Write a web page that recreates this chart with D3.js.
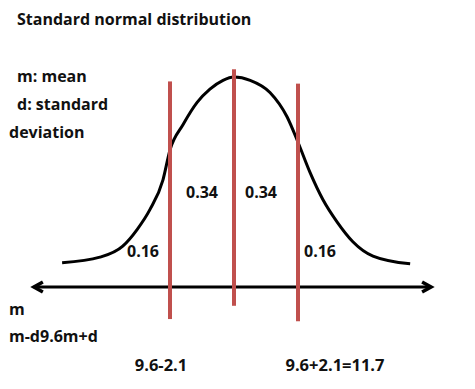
<!DOCTYPE html>
<html lang="en">
<head>
<meta charset="utf-8">
<title>Standard normal distribution</title>
<script src="https://cdnjs.cloudflare.com/ajax/libs/d3/7.8.5/d3.min.js"></script>
<style>
  body { margin: 0; background: #fff; }
  svg text { font-family: "Open Sans", "Noto Sans", sans-serif; font-weight: bold; fill: #111; }
</style>
</head>
<body>
<div id="chart"></div>
<script>
// values
const mean = 9.6;
const sd = 2.1;
const markValues = [7.5, 9.6, 11.7];            // m-d, m, m+d
const markTop = [0.186, 0.197, 0.184];          // height of each red line (density units)
const markBottom = [-0.029, -0.017, -0.031];

// curve: x value, density
const curveX = [3.96, 5.2, 5.95, 6.42, 6.84, 7.27, 7.5, 7.93, 8.39, 8.81, 9.24, 9.6,
                10.13, 10.78, 11.34, 11.7, 12.09, 12.52, 12.98, 13.5, 14.16, 15.38];
const curveY = [0.022, 0.027, 0.037, 0.052, 0.07, 0.097, 0.124, 0.147, 0.167, 0.179, 0.187, 0.19,
                0.187, 0.176, 0.154, 0.131, 0.104, 0.079, 0.059, 0.041, 0.028, 0.021];

const areaLabels = ["0.16", "0.34", "0.34", "0.16"];
const axisExtent = [3.0, 16.1];
const legendLines = ["m: mean", "d: standard", "deviation"];
const bottomLabels = ["m", "m-d9.6m+d"];
const boundLabels = ["9.6-2.1", "9.6+2.1=11.7"];

const w = 475, h = 389;

const svg = d3.select("#chart").append("svg")
  .attr("width", w)
  .attr("height", h);

const x = d3.scaleLinear().domain([7.5, 11.7]).range([170, 298]);
const y = d3.scaleLinear().domain([0, 0.19]).range([287, 77]);

// title
svg.append("text")
  .attr("x", 17).attr("y", 25)
  .style("font-size", "16px")
  .text("Standard normal distribution");

// legend text
svg.selectAll(".legend")
  .data(legendLines)
  .enter()
  .append("text")
  .attr("class", "legend")
  .attr("x", (d, i) => i == 2 ? 9 : 17)
  .attr("y", (d, i) => 82 + i * 28)
  .style("font-size", "16px")
  .text(d => d);

// bell curve
const line = d3.line()
  .x((d, i) => x(curveX[i]))
  .y(d => y(d))
  .curve(d3.curveMonotoneX);

svg.append("path")
  .datum(curveY)
  .attr("d", line)
  .attr("fill", "none")
  .attr("stroke", "#000")
  .attr("stroke-width", 3);

// horizontal axis with arrows at both ends
const ax0 = x(axisExtent[0]), ax1 = x(axisExtent[1]), ay = y(0);
svg.append("line")
  .attr("x1", ax0 + 1).attr("x2", ax1 - 1)
  .attr("y1", ay).attr("y2", ay)
  .attr("stroke", "#000")
  .attr("stroke-width", 3);
svg.append("path")
  .attr("d", `M${ax0 + 10},${ay - 5}L${ax0 + 1},${ay}L${ax0 + 10},${ay + 5}`)
  .attr("fill", "none").attr("stroke", "#000").attr("stroke-width", 3.5)
  .attr("stroke-linejoin", "miter");
svg.append("path")
  .attr("d", `M${ax1 - 10},${ay - 5}L${ax1 - 1},${ay}L${ax1 - 10},${ay + 5}`)
  .attr("fill", "none").attr("stroke", "#000").attr("stroke-width", 3.5)
  .attr("stroke-linejoin", "miter");

// red lines at m-d, m, m+d
svg.selectAll(".mark")
  .data(markValues)
  .enter()
  .append("line")
  .attr("class", "mark")
  .attr("x1", d => x(d)).attr("x2", d => x(d))
  .attr("y1", (d, i) => y(markTop[i]))
  .attr("y2", (d, i) => y(markBottom[i]))
  .attr("stroke", "#c0504d")
  .attr("stroke-width", 4);

// area labels
const labelX = [x(7.5) - 27, (x(7.5) + x(9.6)) / 2, x(9.6) + 27, x(11.7) + 22];
const labelY = [257, 198, 198, 257];
svg.selectAll(".area")
  .data(areaLabels)
  .enter()
  .append("text")
  .attr("class", "area")
  .attr("x", (d, i) => labelX[i])
  .attr("y", (d, i) => labelY[i])
  .attr("text-anchor", "middle")
  .style("font-size", "16px")
  .text(d => d);

// labels under the axis
svg.selectAll(".bottom")
  .data(bottomLabels)
  .enter()
  .append("text")
  .attr("class", "bottom")
  .attr("x", 9)
  .attr("y", (d, i) => 315 + i * 27)
  .style("font-size", "16px")
  .text(d => d);

svg.selectAll(".bound")
  .data(boundLabels)
  .enter()
  .append("text")
  .attr("class", "bound")
  .attr("x", (d, i) => i == 0 ? 161 : 335)
  .attr("y", 371)
  .attr("text-anchor", "middle")
  .style("font-size", "16.5px")
  .text(d => d);
</script>
</body>
</html>
